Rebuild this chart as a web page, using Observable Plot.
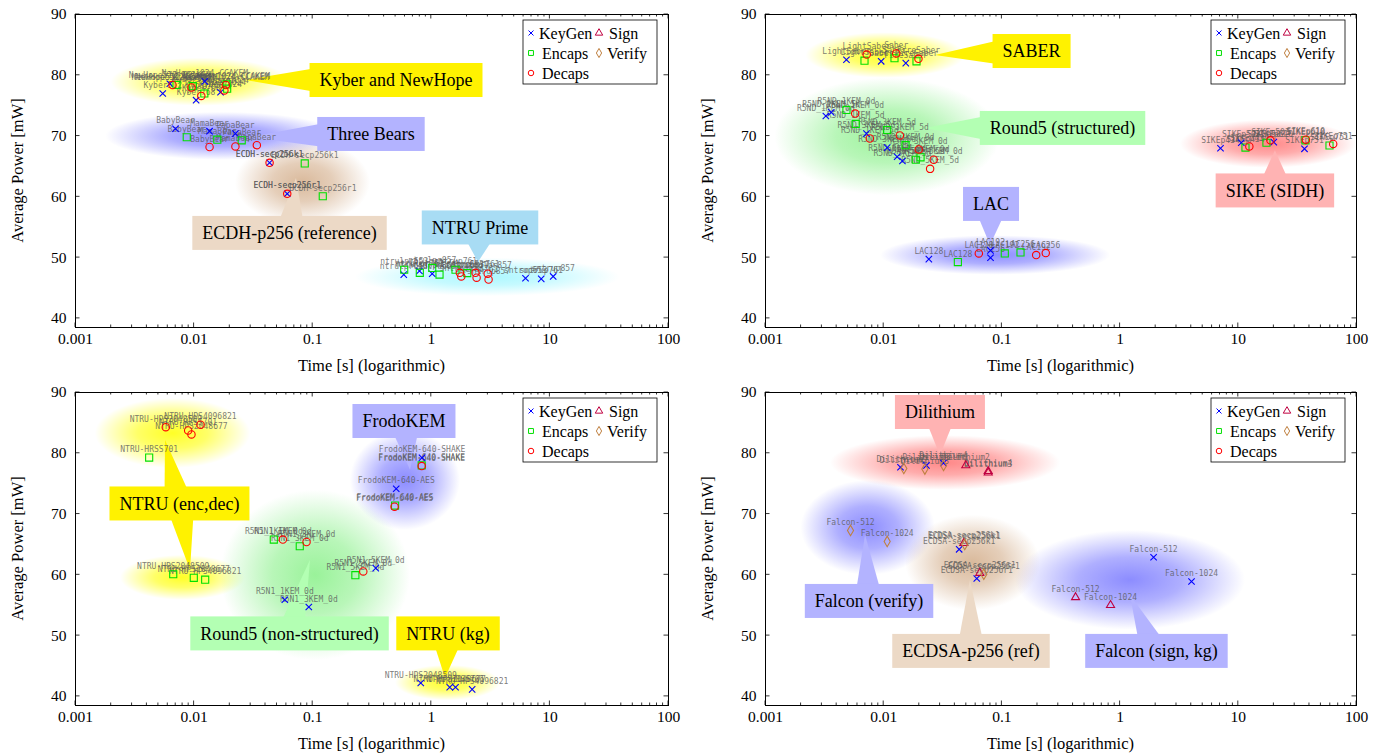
<!DOCTYPE html>
<html><head><meta charset="utf-8">
<script src="https://cdn.jsdelivr.net/npm/d3@7"></script>
<script src="https://cdn.jsdelivr.net/npm/@observablehq/plot@0.6"></script>
<style>
body{margin:0;background:#fff;}
#wrap{position:relative;width:1384px;height:756px;}
.panel{position:absolute;width:692px;height:378px;}
</style></head><body>
<svg width="0" height="0" style="position:absolute">
 <defs id="gdefs"></defs>
</svg>
<div id="wrap"></div>
<script>
// ---------- data: [scheme, operation, time (s), average power (mW)] ----------
const xTicks = [0.001, 0.01, 0.1, 1, 10, 100];
const yTicks = [40, 50, 60, 70, 80, 90];
const legendOps = ["KeyGen", "Sign", "Encaps", "Verify", "Decaps"];

const kemPanelA = [
 ["NewHope512-CCAKEM","KeyGen",0.00624,78.6],["NewHope512-CCAKEM","Encaps",0.00711,78.4],["NewHope512-CCAKEM","Decaps",0.00658,78.4],
 ["Kyber512","KeyGen",0.00544,77.0],["Kyber512","Encaps",0.00975,78.2],["Kyber512","Decaps",0.0095,78.0],
 ["Kyber768","KeyGen",0.0104,75.9],["Kyber768","Encaps",0.0122,77.0],["Kyber768","Decaps",0.0115,76.6],
 ["NewHope1024-CCAKEM","KeyGen",0.0123,79.0],["NewHope1024-CCAKEM","Encaps",0.0188,78.5],["NewHope1024-CCAKEM","Decaps",0.0185,78.4],
 ["Kyber1024","KeyGen",0.0167,77.2],["Kyber1024","Encaps",0.0190,77.8],["Kyber1024","Decaps",0.0180,77.5],
 ["BabyBear","KeyGen",0.00697,71.2],["BabyBear","Encaps",0.00867,69.8],["BabyBear","Decaps",0.0135,68.2],
 ["MamaBear","KeyGen",0.0135,70.8],["MamaBear","Encaps",0.0157,69.4],["MamaBear","Decaps",0.0223,68.3],
 ["PapaBear","KeyGen",0.0223,70.4],["PapaBear","Encaps",0.0252,69.3],["PapaBear","Decaps",0.0338,68.5],
 ["ECDH-secp256k1","KeyGen",0.0433,65.6],["ECDH-secp256k1","Encaps",0.0857,65.5],["ECDH-secp256k1","Decaps",0.0433,65.6],
 ["ECDH-secp256r1","KeyGen",0.061,60.5],["ECDH-secp256r1","Encaps",0.1216,60.1],["ECDH-secp256r1","Decaps",0.061,60.5],
 ["ntrulpr653","KeyGen",0.586,47.2],["ntrulpr653","Encaps",0.591,48.0],["ntrulpr653","Decaps",1.74,47.5],
 ["ntrulpr761","KeyGen",0.795,47.8],["ntrulpr761","Encaps",0.80,47.5],["ntrulpr761","Decaps",2.36,47.5],
 ["ntrulpr857","KeyGen",1.018,47.35],["ntrulpr857","Encaps",1.018,48.3],["ntrulpr857","Decaps",2.99,47.35],
 ["sntrup653","KeyGen",6.23,46.6],["sntrup653","Encaps",1.173,47.2],["sntrup653","Decaps",1.79,46.9],
 ["sntrup761","KeyGen",8.45,46.5],["sntrup761","Encaps",1.60,48.0],["sntrup761","Decaps",2.41,46.7],
 ["sntrup857","KeyGen",10.66,46.9],["sntrup857","Encaps",2.01,47.45],["sntrup857","Decaps",3.04,46.4]
];

const kemPanelB = [
 ["LightSaber","KeyGen",0.00484,82.55],["LightSaber","Encaps",0.00688,82.4],["LightSaber","Decaps",0.00718,83.4],
 ["Saber","KeyGen",0.00952,82.3],["Saber","Encaps",0.01234,82.8],["Saber","Decaps",0.01276,83.6],
 ["FireSaber","KeyGen",0.01538,82.0],["FireSaber","Encaps",0.01895,82.3],["FireSaber","Decaps",0.01968,82.7],
 ["R5ND_1KEM_0d","KeyGen",0.00324,73.3],["R5ND_1KEM_0d","Encaps",0.00484,74.3],["R5ND_1KEM_0d","Decaps",0.00574,73.7],
 ["R5ND_1KEM_5d","KeyGen",0.0036,73.9],["R5ND_1KEM_5d","Encaps",0.0058,72.0],["R5ND_1KEM_5d","Decaps",0.00763,69.6],
 ["R5ND_3KEM_5d","KeyGen",0.00715,70.4],["R5ND_3KEM_5d","Encaps",0.0107,71.0],["R5ND_3KEM_5d","Decaps",0.0137,70.1],
 ["R5ND_3KEM_0d","KeyGen",0.0107,68.1],["R5ND_3KEM_0d","Encaps",0.0153,68.5],["R5ND_3KEM_0d","Decaps",0.0198,67.8],
 ["R5ND_5KEM_0d","KeyGen",0.0130,66.6],["R5ND_5KEM_0d","Encaps",0.0205,66.5],["R5ND_5KEM_0d","Decaps",0.0265,66.1],
 ["R5ND_5KEM_5d","KeyGen",0.0144,65.9],["R5ND_5KEM_5d","Encaps",0.0187,66.1],["R5ND_5KEM_5d","Decaps",0.0247,64.6],
 ["LAC128","KeyGen",0.0241,49.75],["LAC128","Encaps",0.0424,49.26],["LAC128","Decaps",0.0638,50.69],
 ["LAC192","KeyGen",0.0801,51.18],["LAC192","Encaps",0.1058,50.69],["LAC192","Decaps",0.195,50.41],
 ["LAC256","KeyGen",0.0801,49.98],["LAC256","Encaps",0.1437,50.86],["LAC256","Decaps",0.235,50.74],
 ["SIKEp434","KeyGen",7.07,68.0],["SIKEp434","Encaps",11.5,68.1],["SIKEp434","Decaps",12.4,68.3],
 ["SIKEp503","KeyGen",10.6,68.9],["SIKEp503","Encaps",17.3,68.9],["SIKEp503","Decaps",18.7,69.3],
 ["SIKEp610","KeyGen",19.96,69.0],["SIKEp610","Encaps",37.0,69.3],["SIKEp610","Decaps",37.3,69.4],
 ["SIKEp751","KeyGen",36.3,67.9],["SIKEp751","Encaps",59.1,68.45],["SIKEp751","Decaps",63.5,68.7]
];

const kemPanelC = [
 ["NTRU-HPS2048509","KeyGen",0.815,42.2],["NTRU-HPS2048509","Encaps",0.00667,60.1],["NTRU-HPS2048509","Decaps",0.00577,84.3],
 ["NTRU-HPS2048677","KeyGen",1.43,41.5],["NTRU-HPS2048677","Encaps",0.00994,59.5],["NTRU-HPS2048677","Decaps",0.0095,83.1],
 ["NTRU-HPS4096821","KeyGen",2.21,41.15],["NTRU-HPS4096821","Encaps",0.0124,59.2],["NTRU-HPS4096821","Decaps",0.01132,84.7],
 ["NTRU-HRSS701","KeyGen",1.60,41.5],["NTRU-HRSS701","Encaps",0.00418,79.3],["NTRU-HRSS701","Decaps",0.00891,83.75],
 ["FrodoKEM-640-SHAKE","KeyGen",0.835,79.26],["FrodoKEM-640-SHAKE","Encaps",0.83,78.0],["FrodoKEM-640-SHAKE","Decaps",0.83,77.9],
 ["FrodoKEM-640-AES","KeyGen",0.506,74.16],["FrodoKEM-640-AES","Encaps",0.495,71.4],["FrodoKEM-640-AES","Decaps",0.49,71.2],
 ["R5N1_1KEM_0d","KeyGen",0.0582,55.9],["R5N1_1KEM_0d","Encaps",0.047,65.8],["R5N1_1KEM_0d","Decaps",0.056,65.8],
 ["R5N1_3KEM_0d","KeyGen",0.0927,54.7],["R5N1_3KEM_0d","Encaps",0.0778,64.7],["R5N1_3KEM_0d","Decaps",0.0887,65.4],
 ["R5N1_5KEM_0d","KeyGen",0.340,61.1],["R5N1_5KEM_0d","Encaps",0.229,59.95],["R5N1_5KEM_0d","Decaps",0.267,60.56]
];

const sigPanelD = [
 ["Dilithium2","KeyGen",0.01387,77.7],["Dilithium2","Verify",0.0148,77.5],["Dilithium2","Sign",0.0495,78.0],
 ["Dilithium3","KeyGen",0.0230,78.0],["Dilithium3","Verify",0.0223,77.4],["Dilithium3","Sign",0.0766,76.8],
 ["Dilithium4","KeyGen",0.0320,78.4],["Dilithium4","Verify",0.0321,78.0],["Dilithium4","Sign",0.0766,77.05],
 ["Falcon-512","Verify",0.00524,67.3],["Falcon-1024","Verify",0.0107,65.5],
 ["Falcon-512","KeyGen",1.92,62.9],["Falcon-1024","KeyGen",4.02,58.9],
 ["Falcon-512","Sign",0.42,56.3],["Falcon-1024","Sign",0.83,55.0],
 ["ECDSA-secp256k1","KeyGen",0.0435,64.2],["ECDSA-secp256k1","Sign",0.0476,65.2],["ECDSA-secp256k1","Verify",0.0485,65.0],
 ["ECDSA-secp256r1","KeyGen",0.0613,59.4],["ECDSA-secp256r1","Sign",0.065,60.3],["ECDSA-secp256r1","Verify",0.0703,60.1]
];

// ---------- annotation groups (highlight regions, in data units) ----------
const blobsA = [
 {t1:0.002,t2:0.065,v1:74.9,v2:82.8,color:"yellow"},
 {t1:0.0018,t2:0.17,v1:66.0,v2:73.9,color:"blue"},
 {t1:0.0223,t2:0.307,v1:55.3,v2:69.3,color:"brown"},
 {t1:0.23,t2:39,v1:43.6,v2:49.9,color:"cyan"}
];
const blobsB = [
 {t1:0.0022,t2:0.049,v1:79.5,v2:87.0,color:"yellow"},
 {t1:0.0012,t2:0.097,v1:60.2,v2:79.5,color:"green"},
 {t1:0.0094,t2:0.83,v1:47.1,v2:53.6,color:"blue"},
 {t1:3.24,t2:100,v1:64.7,v2:72.6,color:"red"}
];
const blobsC = [
 {t1:0.00147,t2:0.030,v1:77.5,v2:89.0,color:"yellow"},
 {t1:0.0024,t2:0.027,v1:55.8,v2:63.2,color:"yellow"},
 {t1:0.208,t2:1.76,v1:67.3,v2:83.7,color:"blue"},
 {t1:0.0167,t2:0.668,v1:45.9,v2:73.9,color:"green"},
 {t1:0.5,t2:3.83,v1:39.3,v2:45.1,color:"yellow"}
];
const blobsD = [
 {t1:0.00355,t2:0.313,v1:73.9,v2:82.9,color:"red"},
 {t1:0.002,t2:0.0274,v1:59.9,v2:75.5,color:"blue"},
 {t1:0.0153,t2:0.212,v1:54.1,v2:69.8,color:"brown"},
 {t1:0.13,t2:11.5,v1:50.9,v2:67.3,color:"blue"}
];

const calloutsA = [
 {text:"Kyber and NewHope",t:0.509,v:79.14,fill:"yellow",tips:[[0.0271,79.14]]},
 {text:"Three Bears",t:0.313,v:70.26,fill:"blue",tips:[[0.0299,69.77]]},
 {text:"ECDH-p256 (reference)",t:0.0644,v:53.98,fill:"brown",tips:[[0.073,63.0]]},
 {text:"NTRU Prime",t:2.6,v:54.88,fill:"cyan",tips:[[2.5,49.2]]}
];
const calloutsB = [
 {text:"SABER",t:0.18,v:83.91,fill:"yellow",tips:[[0.0274,83.26]]},
 {text:"Round5 (structured)",t:0.329,v:71.25,fill:"green",tips:[[0.0226,71.25]]},
 {text:"LAC",t:0.0817,v:58.75,fill:"blue",tips:[[0.0801,52.0]]},
 {text:"SIKE (SIDH)",t:20.6,v:60.97,fill:"red",tips:[[20.6,67.6]]}
];
const calloutsC = [
 {text:"FrodoKEM",t:0.594,v:85.23,fill:"blue",tips:[[0.668,77.2]]},
 {text:"NTRU (enc,dec)",t:0.0076,v:71.66,fill:"yellow",tips:[[0.00574,82.1],[0.00933,60.7]]},
 {text:"Round5 (non-structured)",t:0.0644,v:50.28,fill:"green",tips:[[0.0958,62.4]]},
 {text:"NTRU (kg)",t:1.397,v:50.28,fill:"yellow",tips:[[1.318,43.0]]}
];
const calloutsD = [
 {text:"Dilithium",t:0.0302,v:86.71,fill:"red",tips:[[0.0302,79.6]]},
 {text:"Falcon (verify)",t:0.00759,v:55.62,fill:"blue",tips:[[0.00702,66.5]]},
 {text:"ECDSA-p256 (ref)",t:0.0553,v:47.4,fill:"brown",tips:[[0.0542,59.1]]},
 {text:"Falcon (sign, kg)",t:2.05,v:47.4,fill:"blue",tips:[[1.225,56.6]]}
];

// ---------- styles ----------
const opColor = {KeyGen:"#0000ff", Encaps:"#00e000", Decaps:"#ff0000", Sign:"#bf0040", Verify:"#bf8040"};
const opSymbol = {KeyGen:"times", Encaps:"square", Decaps:"circle", Sign:"triangle", Verify:"diamond"};
const opR = {KeyGen:3, Encaps:4, Decaps:3.7, Sign:3.0, Verify:3.2};
const blobColor = {yellow:"#ffff00", blue:"#7878ff", brown:"#cda27a", cyan:"#8af4ff", green:"#78ee78", red:"#ff6a6a"};
const blobAlpha = {yellow:0.85, blue:0.85, brown:0.75, cyan:0.7, green:0.75, red:0.8};
const boxColor = {yellow:"#fff200", blue:"#b3b3ff", brown:"#ecd9c6", cyan:"#a8dcf4", green:"#b3ffb3", red:"#ffb3b3"};
const serif = "Liberation Serif";
const SVGNS = "http://www.w3.org/2000/svg";

// gradient defs
const defs = document.getElementById("gdefs");
for (const [k, c] of Object.entries(blobColor)) {
  const g = document.createElementNS(SVGNS, "radialGradient");
  g.setAttribute("id", "blob-" + k);
  const a = blobAlpha[k];
  [[0, a], [0.45, a * 0.7], [1, 0]].forEach(([o, al]) => {
    const s = document.createElementNS(SVGNS, "stop");
    s.setAttribute("offset", o); s.setAttribute("stop-color", c); s.setAttribute("stop-opacity", al);
    g.appendChild(s);
  });
  defs.appendChild(g);
}

function el(tag, attrs, parent) {
  const e = document.createElementNS(SVGNS, tag);
  for (const k in attrs) e.setAttribute(k, attrs[k]);
  if (parent) parent.appendChild(e);
  return e;
}
const measureCtx = document.createElement("canvas").getContext("2d");

function buildPanel(data, blobs, callouts, ml, mr) {
  const marks = [];
  blobs.forEach(b => marks.push(Plot.rect([b], {x1:"t1", x2:"t2", y1:"v1", y2:"v2", fill:`url(#blob-${b.color})`})));
  marks.push(Plot.text(data, {x: d => d[2], y: d => d[3], text: d => d[0], dy: -8,
    fontFamily: "DejaVu Sans Mono", fontSize: 8, fill: "#5a5a5a", fillOpacity: 0.8}));
  for (const op of Object.keys(opSymbol)) {
    const sub = data.filter(d => d[1] === op);
    if (sub.length) marks.push(Plot.dot(sub, {x: d => d[2], y: d => d[3], symbol: opSymbol[op],
      stroke: opColor[op], fill: "none", r: opR[op], strokeWidth: 1.1}));
  }
  marks.push(Plot.frame({stroke: "black", strokeWidth: 1}));
  const svg = Plot.plot({
    width: 692, height: 378, marginTop: 14, marginBottom: 51, marginLeft: ml, marginRight: mr,
    style: {background: "transparent", fontFamily: serif, fontSize: "15.5px", color: "black", overflow: "visible"},
    x: {type: "log", domain: [0.001, 100], ticks: xTicks, tickFormat: d => String(d), tickSize: 0, tickPadding: 5, label: null},
    y: {domain: [38.5, 90], ticks: yTicks, tickSize: 0, tickPadding: 9, label: null},
    marks
  });
  decorate(svg, callouts);
  return svg;
}

function decorate(svg, callouts) {
  const sx = svg.scale("x"), sy = svg.scale("y");
  const X = sx.apply ? v => sx.apply(v) : d3.scaleLog(sx.domain, sx.range);
  const Y = sy.apply ? v => sy.apply(v) : d3.scaleLinear(sy.domain, sy.range);
  const xl = X(sx.domain[0]), xr = X(sx.domain[1]);
  const yb = Y(sy.domain[0]), yt = Y(sy.domain[1]);
  // inward ticks
  const tg = el("g", {stroke: "black", "stroke-width": 0.8}, svg);
  for (let e = -3; e <= 2; e++) {
    for (let k = 1; k <= 9; k++) {
      const t = k * Math.pow(10, e);
      if (t > 100 || t < 0.001) continue;
      const px = X(t), len = k === 1 ? 4.5 : 2.5;
      el("line", {x1: px, x2: px, y1: yb, y2: yb - len}, tg);
      el("line", {x1: px, x2: px, y1: yt, y2: yt + len}, tg);
    }
  }
  yTicks.forEach(v => {
    el("line", {x1: xl, x2: xl + 4.5, y1: Y(v), y2: Y(v)}, tg);
    el("line", {x1: xr, x2: xr - 4.5, y1: Y(v), y2: Y(v)}, tg);
  });
  // axis labels
  const xlab = el("text", {x: (xl + xr) / 2, y: yb + 44, "text-anchor": "middle", "font-family": serif, "font-size": 16.5}, svg);
  xlab.textContent = "Time [s] (logarithmic)";
  const ylab = el("text", {transform: `translate(${xl - 52},${(yt + yb) / 2}) rotate(-90)`, "text-anchor": "middle", "font-family": serif, "font-size": 16.5}, svg);
  ylab.textContent = "Average Power [mW]";
  // callouts, inserted just above the highlight regions
  const cg = el("g", {}, null);
  const h = 34, pad = 10, hw = 11;
  measureCtx.font = `18px "${serif}"`;
  callouts.forEach(c => {
    const cx = X(c.t), cy = Y(c.v);
    const w = measureCtx.measureText(c.text).width + 2 * pad;
    const fill = boxColor[c.fill];
    c.tips.forEach(([tt, tv]) => {
      const tx = X(tt), ty = Y(tv);
      const dx = tx - cx, dy = ty - cy;
      const sxr = Math.abs(dx) > 1e-6 ? (w / 2) / Math.abs(dx) : Infinity;
      const syr = Math.abs(dy) > 1e-6 ? (h / 2) / Math.abs(dy) : Infinity;
      let pts;
      if (sxr < syr) {
        const bx = cx + dx * sxr - Math.sign(dx) * 1, by = cy + dy * sxr;
        pts = [[bx, by - hw], [tx, ty], [bx, by + hw]];
      } else {
        const bx = cx + dx * syr, by = cy + dy * syr - Math.sign(dy) * 1;
        pts = [[bx - hw, by], [tx, ty], [bx + hw, by]];
      }
      el("polygon", {points: pts.map(p => p.join(",")).join(" "), fill}, cg);
    });
    el("rect", {x: cx - w / 2, y: cy - h / 2, width: w, height: h, fill}, cg);
    const t = el("text", {x: cx, y: cy, "text-anchor": "middle", dy: "0.35em", "font-family": serif, "font-size": 18, fill: "black"}, cg);
    t.textContent = c.text;
  });
  const rects = svg.querySelectorAll('g[aria-label="rect"]');
  if (rects.length) rects[rects.length - 1].after(cg); else svg.appendChild(cg);
  // legend
  const lw = 134, lh = 64;
  const lx = xr - 11 - lw, ly = yt + 6;
  const lg = el("g", {transform: `translate(${lx},${ly})`, "text-anchor": "start"}, svg);
  el("rect", {x: 0, y: 0, width: lw, height: lh, fill: "white", stroke: "black", "stroke-width": 0.8}, lg);
  const pos = {KeyGen:[8, 16, 13], Sign:[76, 86, 13], Encaps:[8, 19, 33], Verify:[76, 84, 33], Decaps:[8, 19, 53]};
  const symFn = {KeyGen: d3.symbolTimes, Encaps: d3.symbolSquare, Decaps: d3.symbolCircle, Sign: d3.symbolTriangle, Verify: d3.symbolDiamond};
  legendOps.forEach(op => {
    const [sxp, txp, yy] = pos[op];
    const sym = d3.symbol(symFn[op], op === "KeyGen" ? 18 : 24)();
    el("path", {d: sym, transform: `translate(${sxp},${yy})`, fill: "none", stroke: opColor[op], "stroke-width": 1}, lg);
    const t = el("text", {x: txp, y: yy, dy: "0.35em", "text-anchor": "start", "font-family": serif, "font-size": 16}, lg);
    t.textContent = op;
  });
}

const wrap = document.getElementById("wrap");
const layout = [
  [kemPanelA, blobsA, calloutsA, 75, 24, 0, 0],
  [kemPanelB, blobsB, calloutsB, 73, 28, 692, 0],
  [kemPanelC, blobsC, calloutsC, 75, 24, 0, 378],
  [sigPanelD, blobsD, calloutsD, 73, 28, 692, 378]
];
layout.forEach(([data, blobs, callouts, ml, mr, left, top]) => {
  const div = document.createElement("div");
  div.className = "panel";
  div.style.left = left + "px"; div.style.top = top + "px";
  wrap.appendChild(div);
  div.appendChild(buildPanel(data, blobs, callouts, ml, mr));
});
</script>
</body></html>
